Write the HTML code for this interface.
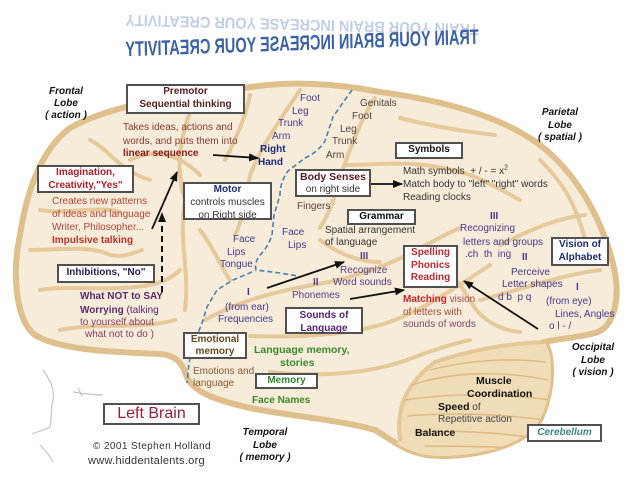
<!DOCTYPE html>
<html><head><meta charset="utf-8">
<style>
body{margin:0;width:640px;height:480px;background:#fff;position:relative;overflow:hidden;font-family:"Liberation Sans",Arial,sans-serif}
svg{position:absolute;left:0;top:0}
.t{position:absolute;white-space:nowrap;font-size:10px;line-height:12px;color:#333}
.b{position:absolute;box-sizing:border-box;border:2px solid #505050;background:#fff;text-align:center;font-weight:bold;font-size:10px;white-space:nowrap}
.bi{font-weight:bold;font-style:italic;color:#111;text-align:center;width:60px}
.pu{color:#45388a}
.bd{font-weight:bold}
</style></head><body>

<svg width="640" height="480" viewBox="0 0 640 480">
<defs>
<clipPath id="bc"><path id="bp" d="M245 88 C290 80 340 84 380 92 C440 100 500 115 540 145 C575 172 600 215 612 260 C622 295 615 325 598 332 C580 338 560 338 545 342 C555 360 552 395 540 420 C525 445 480 456 440 456 C410 456 395 442 375 430 C340 420 290 416 250 408 C215 400 192 392 186 375 C182 362 175 355 160 354 C110 352 60 350 35 335 C15 320 12 270 20 235 C26 195 40 150 70 128 C110 105 190 92 245 88 Z"/></clipPath>
<marker id="ah" viewBox="0 0 10 10" refX="9" refY="5" markerWidth="10" markerHeight="10" markerUnits="userSpaceOnUse" orient="auto"><path d="M0,1 L10,5 L0,9 z" fill="#111"/></marker>
</defs>

<!-- face sketch -->
<g fill="none" stroke="#c4c4c4" stroke-width="1.2">
<path d="M43 370 C50 380 55 390 53 400 C50 412 52 420 50 427 C45 430 36 432 32 434"/>
<path d="M40 445 C45 450 50 456 53 462"/>
<path d="M73 392 C85 394 95 395 103 395"/>
<path d="M78 388 L82 396"/>
</g>

<!-- brain -->
<use href="#bp" fill="#f7ecd9" stroke="#dfc08d" stroke-width="6"/>
<g clip-path="url(#bc)" fill="none" stroke-linecap="round">
<path d="M545 342 C510 343 470 350 435 362 C410 380 395 405 398 456 L560 456 L560 342 Z" fill="#f0dcb6" stroke="none"/>
<g stroke="#e2c390" stroke-width="4" opacity="0.85">
<path d="M250 95 C245 120 235 140 225 160"/>
<path d="M130 160 C150 150 175 150 200 175"/>
<path d="M300 90 C280 120 262 145 250 175 C245 210 240 225 235 235"/>
<path d="M375 98 C360 120 345 160 335 195 C330 210 325 220 320 228"/>
<path d="M345 165 C380 165 420 158 470 175 C495 185 510 195 520 200"/>
<path d="M400 118 C440 128 470 132 495 135"/>
<path d="M205 320 C240 300 280 290 330 282 C370 272 400 260 420 248 C440 238 450 232 460 228"/>
<path d="M250 336 C300 338 360 335 400 318 C430 305 460 285 490 265"/>
<path d="M270 372 C330 378 380 372 420 355 C440 348 460 342 470 340"/>
<path d="M480 300 C520 290 560 275 600 270"/>
<path d="M500 245 C540 225 560 218 585 215"/>
<path d="M40 210 C70 215 95 205 120 212"/>
<path d="M30 250 C60 250 90 245 110 255 C125 258 135 252 142 250"/>
<path d="M40 290 C70 285 110 292 150 285 C165 282 175 275 180 270"/>
<path d="M60 330 C100 322 140 330 175 320"/>
<path d="M90 140 C110 150 118 170 150 180"/>
<path d="M190 112 C180 140 175 170 185 200 C178 240 190 270 185 310"/>
<path d="M545 342 C510 343 470 350 435 362 C410 380 395 405 400 440"/>
<path d="M420 250 C440 262 455 275 470 300 C480 320 500 330 520 332"/>
<path d="M540 160 C560 180 575 200 585 240"/>
<path d="M200 230 C215 250 220 265 230 280"/>
<path d="M320 240 C340 255 360 262 380 262"/>
</g>
<g stroke="#d6ae70" stroke-width="1.4" opacity="0.75">
<path d="M412 385 C450 372 500 370 548 380"/>
<path d="M405 400 C450 393 500 393 550 400"/>
<path d="M408 416 C450 412 500 414 545 420"/>
<path d="M415 432 C450 430 495 432 535 438"/>
<path d="M425 446 C460 446 495 447 520 448"/>
<path d="M430 370 C470 360 510 358 545 362"/>
</g>
</g>

<!-- blue dashed sulcus -->
<g fill="none" stroke="#4c7db3" stroke-width="1.6" stroke-dasharray="5 3">
<path d="M352 90 L342 104 L333 117 L325 141 Q318 152 305 158 L288 171 Q280 182 280 195 L274 215 L272 235 Q268 247 260 255 Q254 263 256 270 L280 273 L298 276"/>
<path d="M252 272 L233 280 L217 290 L207 307 L202 323 L193 346 L189 363 L187 383"/>
</g>

<!-- arrows -->
<g stroke="#111" stroke-width="1.8" fill="none" marker-end="url(#ah)">
<line x1="213" y1="155" x2="258" y2="158"/>
<line x1="152" y1="229" x2="177" y2="172"/>
<line x1="162" y1="292" x2="162" y2="213" stroke-dasharray="6 4" stroke-width="2"/>
<line x1="371" y1="184" x2="402" y2="184"/>
<line x1="267" y1="288" x2="344" y2="262"/>
<line x1="350" y1="299" x2="404" y2="290"/>
<line x1="538" y1="329" x2="464" y2="281"/>
</g>
</svg>

<!-- title (mirrored) -->
<div style="position:absolute;left:302px;top:24px;width:0;height:0">
 <div style="position:absolute;left:-272px;top:-13px;width:544px;text-align:center;font:bold 21px/26px 'Liberation Sans',sans-serif;color:#8fa7cf;opacity:.55;white-space:nowrap;transform:scale(-0.69,-0.75) rotate(1.4deg)">TRAIN YOUR BRAIN INCREASE YOUR CREATIVITY</div>
</div>
<div style="position:absolute;left:302px;top:44px;width:0;height:0">
 <div style="position:absolute;left:-272px;top:-13px;width:544px;text-align:center;font:bold 21px/26px 'Liberation Sans',sans-serif;color:#3a62a5;white-space:nowrap;transform:scale(-0.69,1) rotate(1.4deg)">TRAIN YOUR BRAIN INCREASE YOUR CREATIVITY</div>
</div>

<!-- lobe labels -->
<div class="t bi" style="left:36px;top:86px">Frontal<br>Lobe<br>( action )</div>
<div class="t bi" style="left:530px;top:107px;line-height:12.5px">Parietal<br>Lobe<br>( spatial )</div>
<div class="t bi" style="left:563px;top:342px;line-height:12.5px">Occipital<br>Lobe<br>( vision )</div>
<div class="t bi" style="left:235px;top:427px;line-height:12.5px">Temporal<br>Lobe<br>( memory )</div>

<!-- boxes -->
<div class="b" style="left:126px;top:84px;width:119px;height:30px;line-height:12.5px;color:#5b1c24">Premotor<br>Sequential thinking</div>
<div class="b" style="left:37px;top:165px;width:97px;height:28px;line-height:12.5px;color:#b0202a">Imagination,<br>Creativity,"Yes"</div>
<div class="b" style="left:183px;top:182px;width:89px;height:38px;line-height:12.8px;font-weight:normal;color:#333"><b style="color:#1c2a78">Motor</b><br>controls muscles<br>on Right side</div>
<div class="b" style="left:295px;top:169px;width:76px;height:28px;line-height:12px;font-weight:normal;color:#333"><b style="color:#5a1a20;font-size:10.5px">Body Senses</b><br>on right side</div>
<div class="b" style="left:395px;top:142px;width:68px;height:17px;line-height:12px;color:#111">Symbols</div>
<div class="b" style="left:347px;top:209px;width:69px;height:16px;line-height:12px;color:#111">Grammar</div>
<div class="b" style="left:403px;top:245px;width:55px;height:43px;line-height:12.5px;color:#c0282e">Spelling<br>Phonics<br>Reading</div>
<div class="b" style="left:551px;top:237px;width:58px;height:29px;line-height:12.5px;color:#1e2a70">Vision of<br>Alphabet</div>
<div class="b" style="left:57px;top:264px;width:98px;height:19px;line-height:14px;color:#2a1e5a">Inhibitions, "No"</div>
<div class="b" style="left:285px;top:307px;width:78px;height:27px;line-height:13px;color:#5a2578">Sounds of<br>Language</div>
<div class="b" style="left:183px;top:332px;width:64px;height:27px;line-height:12px;color:#6a4a1a">Emotional<br>memory</div>
<div class="b" style="left:255px;top:373px;width:63px;height:16px;line-height:11px;color:#2e8a2e">Memory</div>
<div class="b" style="left:103px;top:403px;width:97px;height:22px;line-height:17px;font-weight:normal;font-size:16px;color:#9a2035">Left Brain</div>
<div class="b" style="left:527px;top:424px;width:75px;height:18px;line-height:13px;font-style:italic;color:#3a8a7a">Cerebellum</div>

<!-- premotor text -->
<div class="t" style="left:123px;top:122px;color:#8a3a30">Takes ideas, actions and</div>
<div class="t" style="left:123px;top:136px;color:#8a3a30">words, and puts them into</div>
<div class="t bd" style="left:123px;top:148px;color:#8b1a1a">linear sequence</div>

<!-- motor strip -->
<div class="t pu" style="left:300px;top:93px">Foot</div>
<div class="t pu" style="left:292px;top:106px">Leg</div>
<div class="t pu" style="left:278px;top:118px">Trunk</div>
<div class="t pu" style="left:272px;top:131px">Arm</div>
<div class="t bd" style="left:260px;top:144px;color:#1e2a78">Right</div>
<div class="t bd" style="left:258px;top:157px;color:#1e2a78">Hand</div>

<!-- sensory strip -->
<div class="t" style="left:360px;top:98px;color:#5a4040">Genitals</div>
<div class="t" style="left:352px;top:111px;color:#5a4040">Foot</div>
<div class="t" style="left:340px;top:124px;color:#5a4040">Leg</div>
<div class="t" style="left:332px;top:136px;color:#5a4040">Trunk</div>
<div class="t" style="left:326px;top:150px;color:#5a4040">Arm</div>
<div class="t" style="left:297px;top:201px;color:#5a4040">Fingers</div>

<div class="t pu" style="left:233px;top:234px">Face</div>
<div class="t pu" style="left:227px;top:247px">Lips</div>
<div class="t pu" style="left:220px;top:259px">Tongue</div>
<div class="t pu" style="left:282px;top:227px">Face</div>
<div class="t pu" style="left:288px;top:240px">Lips</div>

<div class="t" style="left:325px;top:225px">Spatial arrangement</div>
<div class="t" style="left:325px;top:237px">of language</div>

<div class="t" style="left:403px;top:166px">Math symbols&nbsp; + / - = x<sup style="font-size:7px;line-height:0">2</sup></div>
<div class="t" style="left:403px;top:179px">Match body to "left" "right" words</div>
<div class="t" style="left:403px;top:192px">Reading clocks</div>

<!-- imagination text -->
<div class="t" style="left:52px;top:196px;color:#b5453a">Creates new patterns</div>
<div class="t" style="left:52px;top:209px;color:#b5453a">of ideas and language</div>
<div class="t" style="left:52px;top:222px;color:#b5453a">Writer, Philosopher...</div>
<div class="t bd" style="left:52px;top:235px;color:#c0302a">Impulsive talking</div>

<!-- visual word area -->
<div class="t bd pu" style="left:490px;top:211px">III</div>
<div class="t pu" style="left:460px;top:223px">Recognizing</div>
<div class="t pu" style="left:463px;top:237px">letters and groups</div>
<div class="t pu" style="left:465px;top:249px">.ch&nbsp; th&nbsp; ing</div>
<div class="t bd pu" style="left:522px;top:252px">II</div>
<div class="t pu" style="left:511px;top:267px">Perceive</div>
<div class="t pu" style="left:502px;top:279px">Letter shapes</div>
<div class="t bd pu" style="left:576px;top:282px">I</div>
<div class="t pu" style="left:498px;top:292px">d b&nbsp; p q</div>
<div class="t pu" style="left:546px;top:296px">(from eye)</div>
<div class="t pu" style="left:555px;top:309px">Lines, Angles</div>
<div class="t pu" style="left:549px;top:321px">o l - /</div>

<div class="t" style="left:403px;top:294px;color:#a04848"><b style="color:#c0282e">Matching</b> vision</div>
<div class="t" style="left:403px;top:307px;color:#a44a44">of letters with</div>
<div class="t" style="left:403px;top:319px;color:#7a4a6a">sounds of words</div>

<!-- auditory -->
<div class="t bd" style="left:360px;top:251px;color:#5a3a8a">III</div>
<div class="t" style="left:340px;top:265px;color:#5a3a8a">Recognize</div>
<div class="t" style="left:333px;top:277px;color:#5a3a8a">Word sounds</div>
<div class="t bd" style="left:313px;top:277px;color:#5a3a8a">II</div>
<div class="t" style="left:292px;top:290px;color:#5a3a8a">Phonemes</div>
<div class="t bd pu" style="left:247px;top:287px">I</div>
<div class="t pu" style="left:225px;top:302px">(from ear)</div>
<div class="t pu" style="left:218px;top:314px">Frequencies</div>

<!-- inhibitions text -->
<div class="t bd" style="left:80px;top:291px;color:#5a2a6a">What NOT to SAY</div>
<div class="t" style="left:80px;top:305px;color:#5a2a6a"><b>Worrying</b> (talking</div>
<div class="t" style="left:80px;top:317px;color:#8a3a6a">to yourself about</div>
<div class="t" style="left:85px;top:329px;color:#8a3a6a">what not to do )</div>

<!-- temporal -->
<div class="t bd" style="left:254px;top:344px;color:#3a8a2a;font-size:10.5px">Language memory,</div>
<div class="t bd" style="left:280px;top:357px;color:#3a8a2a;font-size:10.5px">stories</div>
<div class="t" style="left:193px;top:366px;color:#8a5a30">Emotions and</div>
<div class="t" style="left:193px;top:378px;color:#8a5a30">language</div>
<div class="t bd" style="left:252px;top:395px;color:#3a8a2a">Face Names</div>

<!-- cerebellum -->
<div class="t bd" style="left:476px;top:375px;color:#111;font-size:10.5px">Muscle</div>
<div class="t bd" style="left:467px;top:388px;color:#111;font-size:10.5px">Coordination</div>
<div class="t" style="left:438px;top:401px;color:#444"><b style="color:#111;font-size:10.5px">Speed</b> of</div>
<div class="t" style="left:438px;top:414px;color:#444">Repetitive action</div>
<div class="t bd" style="left:415px;top:427px;color:#111;font-size:10.5px">Balance</div>

<!-- credits -->
<div class="t" style="left:93px;top:441px;font-size:10px;letter-spacing:0.4px;color:#333">© 2001 Stephen Holland</div>
<div class="t" style="left:88px;top:455px;font-size:11px;letter-spacing:0.3px;color:#333">www.hiddentalents.org</div>

</body></html>
